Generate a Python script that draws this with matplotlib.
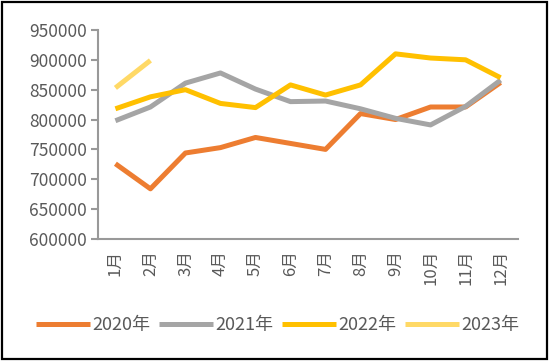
import matplotlib
matplotlib.use("Agg")
import matplotlib.pyplot as plt
from matplotlib.patches import Rectangle

plt.rcParams['font.family'] = ['Noto Sans CJK SC', 'DejaVu Sans']

# data
months = ['1月', '2月', '3月', '4月', '5月', '6月', '7月', '8月', '9月', '10月', '11月', '12月']
v2020 = [726000, 684000, 744000, 753000, 770000, 760000, 750000, 810000, 800000, 821000, 821000, 862000]
v2021 = [798000, 821000, 861000, 878000, 851000, 830000, 831000, 818000, 802000, 791000, 822000, 866000]
v2022 = [818000, 838000, 850000, 827000, 820000, 858000, 841000, 858000, 910000, 903000, 900000, 870000]
v2023 = [853000, 899000]
series = ['2020年', '2021年', '2022年', '2023年']
colors = ['#ED7D31', '#A5A5A5', '#FFC000', '#FFD966']
yticks = [600000, 650000, 700000, 750000, 800000, 850000, 900000, 950000]

fig = plt.figure(figsize=(5.5, 3.61), dpi=100)
ax = fig.add_axes([0.178, 0.338, 0.764, 0.579])

x = list(range(len(months)))
for vals, name, c in zip([v2020, v2021, v2022, v2023], series, colors):
    ax.plot(x[:len(vals)], vals, color=c, lw=3.6, label=name, solid_capstyle='butt')

ax.set_xlim(-0.5, len(months) - 0.5)
ax.set_ylim(600000, 950000)
ax.set_yticks(yticks)
ax.set_yticklabels([str(v) for v in yticks])
ax.set_xticks(x)
ax.set_xticklabels(months, rotation=90, va='top')

for s in ['top', 'right']:
    ax.spines[s].set_visible(False)
for s in ['left', 'bottom']:
    ax.spines[s].set_color('#999999')
    ax.spines[s].set_linewidth(1.5)
ax.tick_params(axis='y', colors='#999999', length=5, width=1.5, labelcolor='#595959', labelsize=12.5, pad=3)
ax.tick_params(axis='x', length=0, labelcolor='#595959', labelsize=12, pad=8)

ax.legend(loc='center', bbox_to_anchor=(0.505, 0.1), bbox_transform=fig.transFigure,
          ncol=4, frameon=False, fontsize=13, handlelength=3.0, handletextpad=0.1,
          columnspacing=0.5, labelcolor='#595959')

fig.add_artist(Rectangle((0.004, 0.006), 0.99, 0.988, transform=fig.transFigure,
                         fill=False, edgecolor='black', lw=1.6))

fig.savefig('out.png', dpi=100)
